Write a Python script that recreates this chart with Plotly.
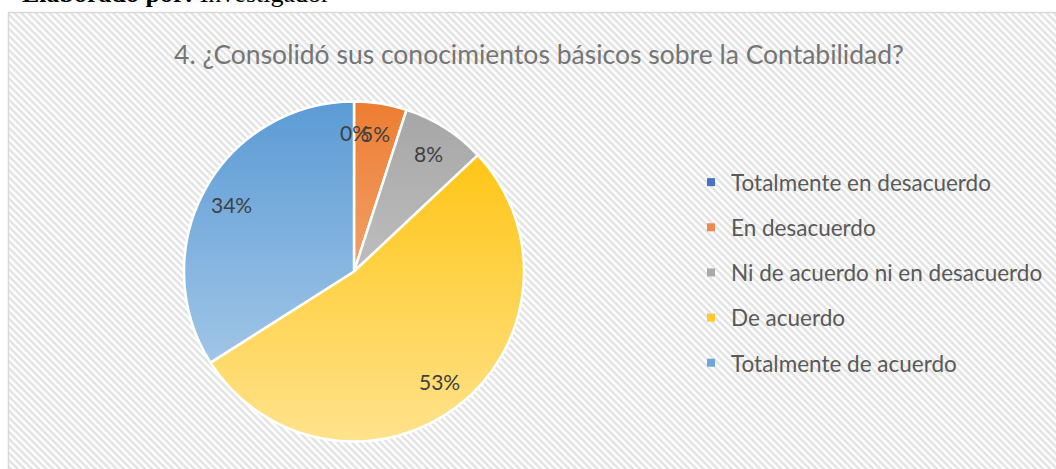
import base64
import math
import plotly.graph_objects as go

# Survey answers for question 4 (percent of respondents)
categories = [
    "Totalmente en desacuerdo",
    "En desacuerdo",
    "Ni de acuerdo ni en desacuerdo",
    "De acuerdo",
    "Totalmente de acuerdo",
]
percentages = [0, 5, 8, 53, 34]
slice_colors = ["#4472c4", "#ed7d31", "#a5a5a5", "#ffc000", "#5b9bd5"]
legend_colors = ["#4a72c8", "#ef8a4e", "#a9a9a9", "#ffc830", "#6fa6dc"]

title_text = "4. ¿Consolidó sus conocimientos básicos sobre la Contabilidad?"
caption_bold = "Elaborado por:"
caption_rest = "Investigador"

W, H = 1056, 469
FONT = "Lato"

# Pie geometry in pixels
cx, cy, R = 354, 271.5, 170

# Diagonal hatch used as the chart area fill
hatch_svg = (
    '<svg xmlns="http://www.w3.org/2000/svg" width="1048" height="457">'
    '<defs><pattern id="p" width="5" height="5" patternUnits="userSpaceOnUse" '
    'patternTransform="rotate(45)">'
    '<rect width="5" height="5" fill="#ffffff"/>'
    '<rect width="5" height="2.5" fill="#e3e3e3"/>'
    '</pattern></defs>'
    '<rect width="1048" height="457" fill="url(#p)"/></svg>'
)
hatch_uri = "data:image/svg+xml;base64," + base64.b64encode(hatch_svg.encode()).decode()

# Soft top-to-bottom light sheen laid over the pie disc
d = 2 * R
sheen_svg = (
    f'<svg xmlns="http://www.w3.org/2000/svg" width="{d}" height="{d}">'
    '<defs><linearGradient id="g" x1="0" y1="0" x2="0" y2="1">'
    '<stop offset="0" stop-color="#ffffff" stop-opacity="0"/>'
    '<stop offset="1" stop-color="#ffffff" stop-opacity="0.55"/>'
    '</linearGradient></defs>'
    f'<circle cx="{R}" cy="{R}" r="{R - 0.5}" fill="url(#g)"/></svg>'
)
sheen_uri = "data:image/svg+xml;base64," + base64.b64encode(sheen_svg.encode()).decode()

fig = go.Figure()

fig.add_trace(go.Pie(
    labels=categories,
    values=percentages,
    sort=False,
    direction="clockwise",
    rotation=0,
    marker=dict(colors=slice_colors, line=dict(color="#ffffff", width=2.5)),
    textinfo="none",
    showlegend=False,
    hoverinfo="label+percent",
    domain=dict(x=[(cx - R) / W, (cx + R) / W], y=[(H - cy - R) / H, (H - cy + R) / H]),
))

# Legend entries with small square keys
for name, col in zip(categories, legend_colors):
    fig.add_trace(go.Scatter(
        x=[None], y=[None], mode="markers", name=name, legendgroup=name,
        marker=dict(symbol="square", size=8, color=col),
    ))

# Percentage labels placed along each slice's mid-angle
annotations = []
total = sum(percentages)
cum = 0.0
for p in percentages:
    mid = (cum + p / 2) / total * 2 * math.pi
    cum += p
    lx = cx + 0.82 * R * math.sin(mid)
    ly = cy - 0.82 * R * math.cos(mid)
    annotations.append(dict(
        text=f"{round(100 * p / total)}%", xref="paper", yref="paper",
        x=lx / W, y=1 - ly / H, xanchor="center", yanchor="middle", showarrow=False,
        font=dict(family=FONT, size=21, color="#404040"),
    ))

annotations.append(dict(
    text=f"<b>{caption_bold}</b> {caption_rest}",
    xref="paper", yref="paper", x=20 / W, y=1, xanchor="left", yanchor="bottom",
    yshift=-10, showarrow=False,
    font=dict(family="Liberation Serif", size=26, color="#000000"),
))

fig.update_layout(
    width=W, height=H,
    margin=dict(l=0, r=0, t=0, b=0),
    paper_bgcolor="#ffffff",
    plot_bgcolor="rgba(0,0,0,0)",
    xaxis=dict(visible=False),
    yaxis=dict(visible=False),
    title=dict(
        text=title_text, x=0.5104, xanchor="center", y=1 - 55 / H, yanchor="middle",
        font=dict(family=FONT, size=26.5, color="#757575"),
    ),
    legend=dict(
        x=691 / W, xanchor="left", y=1 - 161 / H, yanchor="top",
        font=dict(family=FONT, size=22.5, color="#595959"),
        bgcolor="rgba(0,0,0,0)", tracegroupgap=12.9, itemsizing="trace",
    ),
    images=[
        dict(
            source=hatch_uri, xref="paper", yref="paper",
            x=8 / W, y=1 - 12 / H, sizex=1048 / W, sizey=457 / H,
            xanchor="left", yanchor="top", sizing="stretch", layer="below",
        ),
        dict(
            source=sheen_uri, xref="paper", yref="paper",
            x=(cx - R) / W, y=1 - (cy - R) / H, sizex=d / W, sizey=d / H,
            xanchor="left", yanchor="top", sizing="stretch", layer="above",
        ),
    ],
    shapes=[dict(
        type="rect", xref="paper", yref="paper",
        x0=8.5 / W, x1=1.01, y0=-0.01, y1=1 - 12.5 / H,
        line=dict(color="#d9d9d9", width=1.5), fillcolor="rgba(0,0,0,0)",
    )],
    annotations=annotations,
)

fig.write_html("out.html")
